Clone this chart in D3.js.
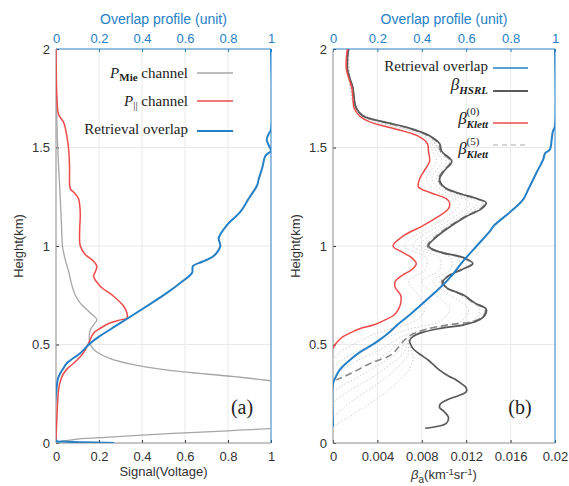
<!DOCTYPE html>
<html><head><meta charset="utf-8">
<script src="https://cdn.jsdelivr.net/npm/d3@7"></script>
<style>
body{margin:0;background:#fff;}
svg{display:block;}
text{font-family:"Liberation Sans",Arial,sans-serif;}
.serif{font-family:"Liberation Serif","Times New Roman",serif;}
</style></head>
<body>
<svg id="chart" width="569" height="486"></svg>
<script>
// ---------------- DATA ----------------
// Panel (a): [height km, value]
const mieHeights = [0.003,0.01,0.02,0.03,0.04,0.048,0.056,0.065,0.073,0.2,0.316,0.337,0.37,0.4,0.43,0.47,0.5,0.52,0.575,0.6,0.626,0.66,0.71,0.75,0.8,0.87,0.93,1.0,1.04,1.24,1.5,1.74,2.0];
const mieSignal  = [0,0.03,0.1,0.25,0.4,0.52,0.7,0.85,1.0,null,1.0,0.83,0.52,0.35,0.25,0.18,0.16,0.155,0.16,0.175,0.19,0.16,0.113,0.09,0.074,0.059,0.043,0.03,0.028,0.02,0.008,0.002,0];

const parHeights = [0.014,0.15,0.27,0.32,0.354,0.38,0.405,0.447,0.473,0.507,0.558,0.585,0.609,0.625,0.634,0.66,0.694,0.745,0.796,0.847,0.875,0.898,0.923,0.957,1.0,1.08,1.156,1.21,1.24,1.27,1.29,1.4,1.49,1.56,1.626,1.668,1.74,2.0];
const parSignal  = [0,0.005,0.012,0.022,0.036,0.055,0.082,0.12,0.136,0.152,0.175,0.21,0.25,0.3,0.33,0.33,0.315,0.268,0.206,0.175,0.185,0.19,0.175,0.136,0.113,0.11,0.113,0.11,0.105,0.085,0.067,0.063,0.059,0.05,0.036,0.012,0.005,0];

const ovlAHeights = [0,0.004,0.008,0.013,0.3,0.33,0.354,0.38,0.405,0.43,0.456,0.48,0.507,0.54,0.575,0.61,0.651,0.7,0.762,0.81,0.864,0.898,0.92,0.949,1.0,1.04,1.106,1.173,1.24,1.307,1.34,1.4,1.458,1.483,1.51,1.54,1.57,1.59,2.0];
const ovlAValues  = [0.27,0.12,0.04,0,0.005,0.01,0.02,0.035,0.05,0.08,0.113,0.135,0.16,0.2,0.25,0.3,0.36,0.43,0.516,0.575,0.633,0.637,0.68,0.733,0.764,0.757,0.795,0.857,0.896,0.935,0.943,0.96,0.974,1.0,0.99,0.98,0.99,1.0,1.0];

// Panel (b)
const ovlBHeights = [0.083,0.3,0.33,0.371,0.42,0.46,0.49,0.52,0.558,0.6,0.651,0.72,0.787,0.85,0.923,1.0,1.075,1.1,1.186,1.237,1.288,1.373,1.44,1.47,1.49,1.54,1.58,1.61,2.0];
const ovlBValues  = [0,0,0.01,0.03,0.075,0.12,0.165,0.205,0.25,0.29,0.346,0.415,0.481,0.535,0.586,0.647,0.707,0.722,0.812,0.857,0.88,0.917,0.947,0.955,0.977,0.985,0.99,1.0,1.0];

const betaHeights = [2.0,1.9,1.8,1.75,1.7,1.66,1.63,1.6,1.56,1.52,1.48,1.43,1.38,1.34,1.3,1.27,1.24,1.22,1.19,1.15,1.1,1.05,1.0,0.97,0.94,0.91,0.88,0.85,0.82,0.79,0.75,0.71,0.68,0.65,0.62,0.6,0.58,0.56,0.54,0.52,0.5,0.48,0.46,0.44,0.42,0.4,0.37,0.34,0.32,0.3,0.28,0.26,0.24,0.22,0.2,0.18,0.16,0.13,0.1,0.08,0.075];
const betaHSRL = [0.0014,0.0013,0.0018,0.0019,0.0021,0.0027,0.0046,0.0068,0.0087,0.0096,0.0098,0.0107,0.0100,0.0096,0.0100,0.0112,0.0130,0.0138,0.0134,0.0120,0.0106,0.0094,0.0086,0.0096,0.0118,0.0126,0.0116,0.0105,0.0099,0.0102,0.0118,0.0128,0.0138,0.0137,0.0130,0.0118,0.0095,0.0080,0.0072,0.0069,0.0070,0.0072,0.0076,0.0081,0.0086,0.0090,0.0096,0.0104,0.0111,0.0116,0.0120,0.0120,0.0113,0.0103,0.0097,0.0096,0.0100,0.0104,0.0102,0.0090,0.0083];
const betaKlett0 = [0.0013,0.0012,0.0017,0.0018,0.0019,0.0024,0.0033,0.0052,0.0076,0.0085,0.0086,0.0087,0.0082,0.0078,0.0077,0.0088,0.0102,0.0105,0.0104,0.0095,0.0080,0.0063,0.0054,0.0062,0.0071,0.0075,0.0071,0.0062,0.0056,0.0056,0.0061,0.0061,0.0059,0.0055,0.0045,0.0037,0.0024,0.0016,0.0009,0.0005,0.0002,0.0000,null,null,null,null,null,null,null,null,null,null,null,null,null,null,null,null,null,null,null];
const betaKlett5 = [0.0014,0.0013,0.0018,0.0019,0.0021,0.0027,0.0045,0.0067,0.0086,0.0095,0.0097,0.0106,0.0099,0.0095,0.0099,0.0111,0.0129,0.0137,0.0133,0.0119,0.0105,0.0093,0.0085,0.0095,0.0117,0.0125,0.0115,0.0104,0.0098,0.0101,0.0117,0.0127,0.0137,0.0136,0.0128,0.0104,0.0086,0.0075,0.0068,0.0064,0.0061,0.0058,0.0055,0.0050,0.0041,0.0032,0.0022,0.0011,0.0003,null,null,null,null,null,null,null,null,null,null,null,null];

// intermediate Klett iterations (dotted)
const iterHeights = [2.0,1.7,1.63,1.56,1.48,1.43,1.34,1.27,1.22,1.15,1.05,1.0,0.94,0.88,0.82,0.75,0.68,0.62,0.58,0.54,0.5,0.46,0.42,0.38,0.34];
const betaKlett1 = [0.0013,0.0020,0.0037,0.0080,0.0090,0.0093,0.0084,0.0096,0.0114,0.0103,0.0073,0.0064,0.0084,0.0083,0.0068,0.0077,0.0083,0.0074,0.0052,0.0032,0.0018,0.0006,0.0,null,null];
const betaKlett2 = [0.0014,0.0020,0.0040,0.0083,0.0093,0.0098,0.0089,0.0102,0.0123,0.0110,0.0080,0.0072,0.0096,0.0096,0.0080,0.0093,0.0105,0.0097,0.0070,0.0050,0.0036,0.0020,0.0008,0.0,null];
const betaKlett3 = [0.0014,0.0021,0.0043,0.0085,0.0096,0.0102,0.0093,0.0107,0.0130,0.0115,0.0087,0.0078,0.0106,0.0106,0.0090,0.0106,0.0122,0.0116,0.0084,0.0062,0.0050,0.0038,0.0022,0.0010,0.0];
const betaKlett4 = [0.0014,0.0021,0.0045,0.0086,0.0097,0.0105,0.0095,0.0110,0.0135,0.0118,0.0091,0.0083,0.0113,0.0112,0.0096,0.0114,0.0132,0.0126,0.0092,0.0068,0.0058,0.0050,0.0038,0.0024,0.0010];
const lowHeights = [0.56,0.54,0.52,0.5,0.48,0.46,0.44,0.42,0.4,0.37,0.34,0.32,0.3,0.28,0.26,0.24,0.22,0.2,0.18,0.16,0.13,0.1,0.08];
const betaKlett6 = [0.0078,0.0070,0.0066,0.0064,0.0062,0.0058,0.0054,0.0048,0.0042,0.0033,0.0024,0.0018,0.0011,0.0005,0.0,null,null,null,null,null,null,null,null];
const betaKlett7 = [0.0079,0.0071,0.0068,0.0067,0.0066,0.0064,0.0061,0.0057,0.0052,0.0045,0.0037,0.0031,0.0025,0.0019,0.0013,0.0008,0.0003,0.0,null,null,null,null,null];
const betaKlett8 = [0.0079,0.0071,0.0068,0.0068,0.0068,0.0068,0.0067,0.0064,0.0061,0.0056,0.0050,0.0045,0.0040,0.0035,0.0029,0.0024,0.0019,0.0014,0.0010,0.0006,0.0,null,null];
const betaKlett9 = [0.0080,0.0072,0.0069,0.0069,0.0070,0.0071,0.0072,0.0072,0.0071,0.0068,0.0064,0.0060,0.0056,0.0052,0.0048,0.0043,0.0038,0.0033,0.0028,0.0022,0.0014,0.0005,0.0];

// ticks
const heightTicks = [0,0.5,1,1.5,2];
const unitTicks = [0,0.2,0.4,0.6,0.8,1];
const betaTicks = [0,0.004,0.008,0.012,0.016,0.02];

// ---------------- DRAW ----------------
const BLUE = "#2680c6", RED = "#ee4a4a", GRAYL = "#a6a6a6", DARK = "#5a5a5a", TXT = "#333";
const svg = d3.select("#chart");
const y = d3.scaleLinear().domain([0,2]).range([443,49]);
const fmt = d3.format("~g");

function zip(hs, vs){ return hs.map((h,i)=>[h, vs[i]]); }

function drawPanel(id, x0, x1, bottomDomain, bottomTicks, xlabelFn){
  const xb = d3.scaleLinear().domain(bottomDomain).range([x0,x1]);
  const xt = d3.scaleLinear().domain([0,1]).range([x0,x1]);
  const g = svg.append("g");
  // grid
  g.append("g").selectAll("line").data(unitTicks.slice(1,-1)).join("line")
    .attr("x1",d=>xt(d)).attr("x2",d=>xt(d)).attr("y1",y(0)).attr("y2",y(2))
    .attr("stroke","#e9e9e9").attr("stroke-width",1);
  g.append("g").selectAll("line").data(heightTicks.slice(1,-1)).join("line")
    .attr("x1",x0).attr("x2",x1).attr("y1",d=>y(d)).attr("y2",d=>y(d))
    .attr("stroke","#e9e9e9").attr("stroke-width",1);
  // axes
  const ax = (a, tr, col)=>{
    const s = g.append("g").attr("transform",tr).call(a);
    s.select(".domain").remove();
    s.selectAll(".tick line").attr("stroke",col);
    s.selectAll(".tick text").attr("fill",col).style("font-size","13px");
    return s;
  };
  ax(d3.axisLeft(y).tickValues(heightTicks).tickFormat(fmt).tickSize(-3).tickPadding(6), `translate(${x0},0)`, TXT);
  ax(d3.axisBottom(xb).tickValues(bottomTicks).tickFormat(fmt).tickSize(-3).tickPadding(9), `translate(0,${y(0)})`, TXT);
  ax(d3.axisTop(xt).tickValues(unitTicks).tickFormat(fmt).tickSize(-3).tickPadding(6), `translate(0,${y(2)})`, BLUE);
  // box
  g.append("line").attr("x1",x0).attr("x2",x0).attr("y1",y(0)).attr("y2",y(2)).attr("stroke","#8c8c8c");
  g.append("line").attr("x1",x0).attr("x2",x1).attr("y1",y(0)).attr("y2",y(0)).attr("stroke","#8c8c8c");
  g.append("line").attr("x1",x0).attr("x2",x1).attr("y1",y(2)).attr("y2",y(2)).attr("stroke",BLUE);
  g.append("line").attr("x1",x1).attr("x2",x1).attr("y1",y(0)).attr("y2",y(2)).attr("stroke",BLUE);
  // titles
  g.append("text").attr("x",(x0+x1)/2).attr("y",24).attr("text-anchor","middle")
    .attr("fill",BLUE).style("font-size","14px").text("Overlap profile (unit)");
  g.append("text").attr("transform",`translate(${x0-33},${y(1)}) rotate(-90)`)
    .attr("text-anchor","middle").attr("fill",TXT).style("font-size","13px").text("Height(km)");
  xlabelFn(g, (x0+x1)/2);
  // clip
  svg.append("clipPath").attr("id",id).append("rect")
    .attr("x",x0).attr("y",y(2)).attr("width",x1-x0).attr("height",y(0)-y(2));
  const plot = g.append("g").attr("clip-path",`url(#${id})`);
  return {xb, xt, plot, g};
}

function addLine(plot, x, data, color, w, dash){
  const line = d3.line().defined(d=>d[1]!=null).x(d=>x(d[1])).y(d=>y(d[0])).curve(d3.curveCatmullRom.alpha(0.5));
  plot.append("path").datum(data).attr("d",line).attr("fill","none")
    .attr("stroke",color).attr("stroke-width",w).attr("stroke-dasharray",dash||null)
    .attr("stroke-linejoin","round");
}

// Panel (a)
const A = drawPanel("clipA", 56, 271, [0,1], unitTicks, (g,cx)=>{
  g.append("text").attr("x",cx).attr("y",476).attr("text-anchor","middle").attr("fill",TXT)
    .style("font-size","13px").text("Signal(Voltage)");
});
addLine(A.plot, A.xb, zip(mieHeights, mieSignal), GRAYL, 1.3);
addLine(A.plot, A.xb, zip(parHeights, parSignal), RED, 1.5);
addLine(A.plot, A.xt, zip(ovlAHeights, ovlAValues), BLUE, 2);

// Panel (b)
const B = drawPanel("clipB", 333, 555, [0,0.02], betaTicks, (g,cx)=>{
  const t = g.append("text").attr("x",cx).attr("y",479).attr("text-anchor","middle").attr("fill",TXT).style("font-size","13px");
  t.append("tspan").style("font-style","italic").text("β");
  t.append("tspan").attr("dy",4).style("font-size","10px").text("a");
  t.append("tspan").attr("dy",-4).text("(km");
  t.append("tspan").attr("dy",-4).style("font-size","9px").text("-1");
  t.append("tspan").attr("dy",4).text("sr");
  t.append("tspan").attr("dy",-4).style("font-size","9px").text("-1");
  t.append("tspan").attr("dy",4).text(")");
});
[betaKlett1,betaKlett2,betaKlett3,betaKlett4].forEach(s=>addLine(B.plot, B.xb, zip(iterHeights, s), "#cfcfcf", 1, "1.5,2"));
[betaKlett6,betaKlett7,betaKlett8,betaKlett9].forEach(s=>addLine(B.plot, B.xb, zip(lowHeights, s), "#cfcfcf", 1, "1.5,2"));
addLine(B.plot, B.xb, zip(betaHeights, betaKlett5), "#8a8a8a", 1.6, "7,4");
addLine(B.plot, B.xb, zip(betaHeights, betaHSRL), DARK, 1.7);
addLine(B.plot, B.xb, zip(betaHeights, betaKlett0), RED, 1.5);
addLine(B.plot, B.xt, zip(ovlBHeights, ovlBValues), BLUE, 2);

// ---------------- LEGENDS ----------------
function legLine(x1,x2,yy,color,w,dash){
  svg.append("line").attr("x1",x1).attr("x2",x2).attr("y1",yy).attr("y2",yy)
    .attr("stroke",color).attr("stroke-width",w).attr("stroke-dasharray",dash||null);
}
// panel a
{
  const t1 = svg.append("text").attr("class","serif").attr("x",188).attr("y",78).attr("text-anchor","end").attr("fill","#222").style("font-size","15px");
  t1.append("tspan").style("font-style","italic").text("P");
  t1.append("tspan").attr("dy",3).style("font-size","11px").style("font-weight","bold").text("Mie");
  t1.append("tspan").attr("dy",-3).text(" channel");
  legLine(197,233,73,GRAYL,1.3);
  const t2 = svg.append("text").attr("class","serif").attr("x",188).attr("y",106).attr("text-anchor","end").attr("fill","#222").style("font-size","15px");
  t2.append("tspan").style("font-style","italic").text("P");
  t2.append("tspan").attr("dy",3).style("font-size","11px").text("||");
  t2.append("tspan").attr("dy",-3).text(" channel");
  legLine(197,233,101,RED,1.5);
  svg.append("text").attr("class","serif").attr("x",188).attr("y",134).attr("text-anchor","end").attr("fill","#222").style("font-size","15px").text("Retrieval overlap");
  legLine(197,233,131,BLUE,2);
}
// panel b
{
  const XR = 488;
  svg.append("text").attr("class","serif").attr("x",XR).attr("y",71).attr("text-anchor","end").attr("fill","#222").style("font-size","15px").text("Retrieval overlap");
  legLine(493,528,68,BLUE,1.5);
  function betaLabel(yb, sub, sup){
    const s = svg.append("text").attr("class","serif").attr("x",XR).attr("y",yb+4).attr("text-anchor","end")
      .attr("fill","#222").style("font-size","11px").style("font-style","italic").style("font-weight","bold").text(sub);
    const w = s.node().getComputedTextLength();
    const xs = XR - w;
    if(sup){
      svg.append("text").attr("class","serif").attr("x",xs).attr("y",yb-9).attr("fill","#222").style("font-size","11px").text(sup);
    }
    svg.append("text").attr("class","serif").attr("x",xs).attr("y",yb).attr("text-anchor","end")
      .attr("fill","#222").style("font-size","17px").style("font-style","italic").text("β");
  }
  betaLabel(90,"HSRL",null);
  legLine(493,528,91,DARK,2);
  betaLabel(124,"Klett","(0)");
  legLine(493,528,123,RED,1.5);
  betaLabel(154,"Klett","(5)");
  legLine(493,528,145,"#aaaaaa",1.2,"5,4");
}
// panel tags
svg.append("text").attr("class","serif").attr("x",242).attr("y",414).attr("text-anchor","middle").attr("fill","#222").style("font-size","20px").text("(a)");
svg.append("text").attr("class","serif").attr("x",520).attr("y",414).attr("text-anchor","middle").attr("fill","#222").style("font-size","20px").text("(b)");
</script>
</body></html>
